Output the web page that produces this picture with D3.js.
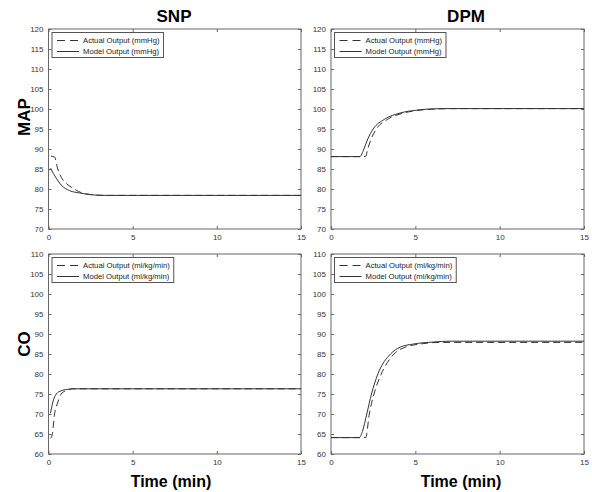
<!DOCTYPE html>
<html>
<head>
<meta charset="utf-8">
<script src="https://cdn.jsdelivr.net/npm/d3@7"></script>
<style>
  body { margin: 0; background: #fff; }
  svg { display: block; font-family: Arial, "Liberation Sans", sans-serif; }
</style>
</head>
<body>
<div id="chart"></div>
<script>
// data: [time (min), value]
const xTicks = [0, 5, 10, 15]
const mapTicks = [70, 75, 80, 85, 90, 95, 100, 105, 110, 115, 120]
const coTicks = [60, 65, 70, 75, 80, 85, 90, 95, 100, 105, 110]

const snpMapActual = [[0.15,88.2],[0.36,88.0],[0.55,85.0],[0.85,82.3],[1.05,81.4],[1.45,80.2],[2.0,79.0],[2.5,78.6],[3.0,78.45],[3.8,78.4],[15,78.4]]
const snpMapModel = [[0.12,85.2],[0.3,83.8],[0.46,82.7],[0.75,81.0],[1.25,79.6],[1.85,79.0],[2.5,78.6],[3.2,78.4],[15,78.4]]
const dpmMapActual = [[0,88.1],[2.05,88.1],[2.18,90],[2.38,92.5],[2.69,95],[3.35,97.4],[4.3,99],[5.26,99.7],[6.24,100],[7,100.1],[15,100.1]]
const dpmMapModel = [[0,88.1],[1.71,88.1],[1.95,90],[2.18,92.5],[2.5,95],[3.16,97.4],[4.1,99],[5.07,99.7],[5.85,100],[7,100.1],[15,100.1]]
const snpCoActual = [[0.12,63.9],[0.22,64.8],[0.36,70.0],[0.56,73.0],[0.75,75.0],[1.15,76.0],[1.45,76.3],[15,76.3]]
const snpCoModel = [[0.12,70.2],[0.26,73.0],[0.46,75.0],[0.75,75.8],[1.2,76.2],[1.5,76.3],[15,76.3]]
const dpmCoActual = [[0,64.1],[2.06,64.1],[2.27,70],[2.55,75],[2.98,80],[3.53,84],[3.73,85],[4.4,86.7],[5.3,87.5],[6.5,87.9],[15,87.9]]
const dpmCoModel = [[0,64.1],[1.67,64.1],[1.86,65.6],[2.12,70],[2.4,75],[2.78,80],[3.53,85],[4.1,86.7],[4.9,87.5],[6.1,88.0],[7,88.2],[15,88.2]]

const mapLegend = ["Actual Output (mmHg)", "Model Output (mmHg)"]
const coLegend = ["Actual Output (ml/kg/min)", "Model Output (ml/kg/min)"]

const W = 592, H = 492

const svg = d3.select("#chart").append("svg")
    .attr("width", W)
    .attr("height", H)

// the four subplots
const panels = [
  {x0: 48.5, x1: 301, y0: 29, y1: 229, dom: [70,120], ticks: mapTicks, actual: snpMapActual, model: snpMapModel, legend: mapLegend},
  {x0: 331, x1: 584, y0: 29, y1: 229, dom: [70,120], ticks: mapTicks, actual: dpmMapActual, model: dpmMapModel, legend: mapLegend},
  {x0: 48.5, x1: 301, y0: 254, y1: 454, dom: [60,110], ticks: coTicks, actual: snpCoActual, model: snpCoModel, legend: coLegend},
  {x0: 331, x1: 584, y0: 254, y1: 454, dom: [60,110], ticks: coTicks, actual: dpmCoActual, model: dpmCoModel, legend: coLegend}
]

panels.forEach(function(p) {
  const x = d3.scaleLinear().domain([0, 15]).range([p.x0, p.x1])
  const y = d3.scaleLinear().domain(p.dom).range([p.y1, p.y0])
  const g = svg.append("g")

  // inward ticks on all four sides, MATLAB style
  const tl = 3
  g.append("g")
      .attr("transform", `translate(0,${p.y1})`)
      .call(d3.axisBottom(x).tickValues(xTicks).tickSizeInner(-tl).tickSizeOuter(0).tickPadding(5))
  g.append("g")
      .attr("transform", `translate(0,${p.y0})`)
      .call(d3.axisTop(x).tickValues(xTicks).tickSizeInner(-tl).tickSizeOuter(0).tickFormat(""))
  g.append("g")
      .attr("transform", `translate(${p.x0},0)`)
      .call(d3.axisLeft(y).tickValues(p.ticks).tickSizeInner(-tl).tickSizeOuter(0).tickPadding(5))
  g.append("g")
      .attr("transform", `translate(${p.x1},0)`)
      .call(d3.axisRight(y).tickValues(p.ticks).tickSizeInner(-tl).tickSizeOuter(0).tickFormat(""))

  g.selectAll(".domain").remove()
  g.selectAll(".tick line").attr("stroke", "#666")
  g.selectAll(".tick text")
      .attr("fill", "#333")
      .style("font-size", "8px")
      .style("font-family", "Arial, 'Liberation Sans', sans-serif")

  g.append("rect")
      .attr("x", p.x0).attr("y", p.y0)
      .attr("width", p.x1 - p.x0).attr("height", p.y1 - p.y0)
      .attr("fill", "none")
      .attr("stroke", "#666")
      .attr("stroke-width", 1)

  const line = d3.line()
      .x(d => x(d[0]))
      .y(d => y(d[1]))
      .curve(d3.curveMonotoneX)

  g.append("path")
      .datum(p.model)
      .attr("d", line)
      .attr("fill", "none")
      .attr("stroke", "#333")
      .attr("stroke-width", 1)
  g.append("path")
      .datum(p.actual)
      .attr("d", line)
      .attr("fill", "none")
      .attr("stroke", "#333")
      .attr("stroke-width", 1)
      .attr("stroke-dasharray", "7,4")

  // legend
  const lx = p.x0 + 3.5, ly = p.y0 + 3.5
  const leg = g.append("g")
  const box = leg.append("rect")
      .attr("x", lx).attr("y", ly)
      .attr("height", 25)
      .attr("fill", "#fff")
      .attr("stroke", "#555")
  let maxW = 0
  p.legend.forEach(function(txt, i) {
    const yy = ly + 8 + i * 11
    leg.append("line")
        .attr("x1", lx + 5).attr("x2", lx + 27)
        .attr("y1", yy).attr("y2", yy)
        .attr("stroke", "#333")
        .attr("stroke-dasharray", i == 0 ? "8,5" : null)
    const t = leg.append("text")
        .attr("x", lx + 31).attr("y", yy)
        .attr("dy", "0.35em")
        .attr("fill", "#222")
        .style("font-size", "7.7px")
        .text(txt)
    maxW = Math.max(maxW, t.node().getComputedTextLength())
  })
  box.attr("width", 31 + maxW + 4)
})

// titles and axis labels
function label(txt, x, y, size, rot) {
  const t = svg.append("text")
      .attr("text-anchor", "middle")
      .attr("font-weight", "bold")
      .attr("fill", "#000")
      .style("font-size", size + "px")
      .text(txt)
  if (rot) t.attr("transform", `translate(${x},${y}) rotate(-90)`)
  else t.attr("x", x).attr("y", y)
}
label("SNP", 174, 22, 17)
label("DPM", 466, 22, 17)
label("MAP", 30, 117, 17, true)
label("CO", 30, 344, 17, true)
label("Time (min)", 171, 487, 16)
label("Time (min)", 461, 487, 16)
</script>
</body>
</html>
